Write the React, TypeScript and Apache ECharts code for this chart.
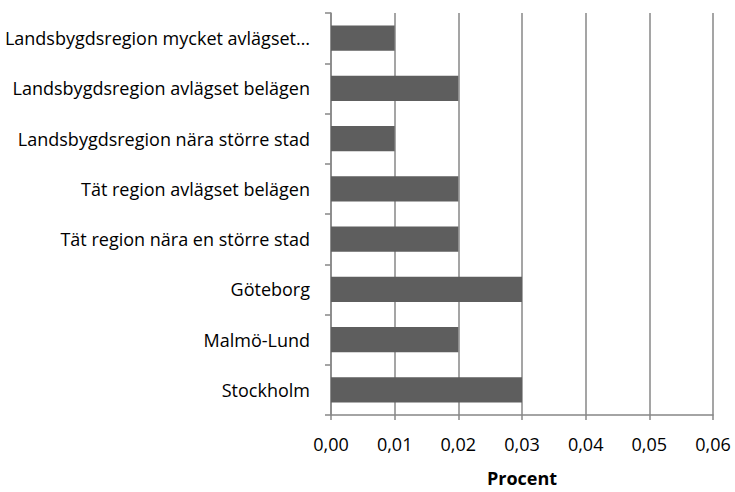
import React, { useEffect, useRef } from "react";
import * as echarts from "echarts";

const categories = [
  "Stockholm",
  "Malmö-Lund",
  "Göteborg",
  "Tät region nära en större stad",
  "Tät region avlägset belägen",
  "Landsbygdsregion nära större stad",
  "Landsbygdsregion avlägset belägen",
  "Landsbygdsregion mycket avlägset…",
];
const values = [0.03, 0.02, 0.03, 0.02, 0.02, 0.01, 0.02, 0.01];
const axisTitle = "Procent";

export default function App() {
  const ref = useRef<HTMLDivElement>(null);
  useEffect(() => {
    if (!ref.current) return;
    const chart = echarts.init(ref.current, undefined, { renderer: "svg" });
    const font = "Open Sans";
    chart.setOption({
      animation: false,
      grid: { left: 331, right: 22, top: 13, bottom: 70, containLabel: false },
      xAxis: {
        type: "value",
        min: 0,
        max: 0.06,
        interval: 0.01,
        name: axisTitle,
        nameLocation: "middle",
        nameGap: 54,
        nameTextStyle: { fontFamily: font, fontSize: 18, fontWeight: "bold", color: "#000" },
        axisLine: { show: true, lineStyle: { color: "#878787", width: 1.5 } },
        axisTick: { show: true, length: 5, lineStyle: { color: "#878787", width: 1.5 } },
        splitLine: { show: true, lineStyle: { color: "#878787", width: 1.5 } },
        axisLabel: {
          fontFamily: font,
          fontSize: 18,
          color: "#000",
          margin: 20,
          formatter: (v: number) => v.toFixed(2).replace(".", ","),
        },
      },
      yAxis: {
        type: "category",
        data: categories,
        axisLine: { show: true, lineStyle: { color: "#878787", width: 1.5 } },
        axisTick: { show: true, length: 6, lineStyle: { color: "#878787", width: 1.5 } },
        axisLabel: { fontFamily: font, fontSize: 18, color: "#000", margin: 21 },
        splitLine: { show: false },
      },
      series: [
        {
          type: "bar",
          data: values,
          barCategoryGap: "50%",
          itemStyle: { color: "#5e5e5e" },
        },
      ],
    });
    return () => chart.dispose();
  }, []);
  return <div ref={ref} style={{ width: 735, height: 492, position: "absolute", left: 0, top: 0 }} />;
}
